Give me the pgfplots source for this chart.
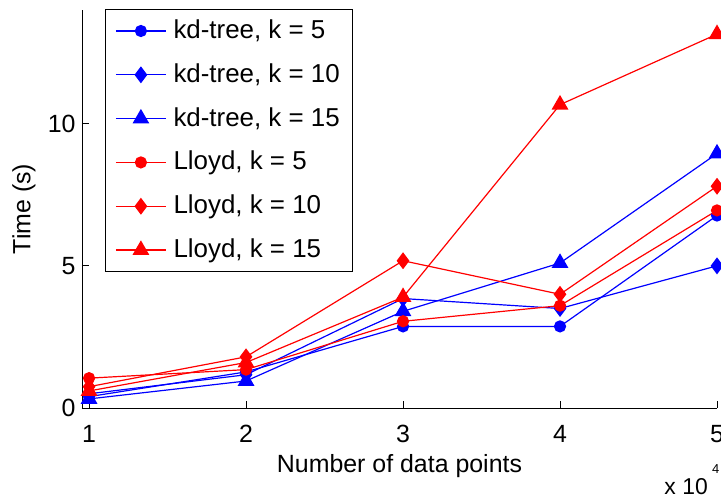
\documentclass[border=0pt]{standalone}
\usepackage{fontspec}
\setmainfont{Liberation Sans}
\usepackage{pgfplots}
\pgfplotsset{compat=1.18}
\definecolor{mblue}{RGB}{0,0,255}
\definecolor{mred}{RGB}{255,0,0}
\begin{document}
\fontsize{25}{30}\selectfont
\begin{tikzpicture}
\begin{axis}[
  name=ax,
  scale only axis, width=635bp, height=398bp,
  xmin=0.955, xmax=5, ymin=0, ymax=14,
  axis x line*=bottom, axis y line*=left,
  xtick={1,2,3,4,5}, ytick={0,5,10},
  tick align=inside, major tick length=7bp,
  tick style={black, line width=0.9bp},
  axis line style={black, line width=0.9bp},
  /pgf/number format/assume math mode=true,
  ticklabel style={font=\fontsize{25}{30}\selectfont},
  xticklabel style={yshift=-9bp},
  yticklabel style={xshift=2bp},
  xlabel={Number of data points}, ylabel={Time (s)},
  label style={font=\fontsize{25}{30}\selectfont},
  xlabel style={at={(axis description cs:0.5,-0.146)}, anchor=center},
  ylabel style={at={(axis description cs:-0.0915,0.5)}, anchor=center},
  legend cell align=left,
  legend style={at={(0.036,1.003)}, anchor=north west, draw=black, line width=0.9bp,
    font=\fontsize{26}{31}\selectfont, row sep=15.3bp, inner xsep=10bp, inner ysep=7.5bp,
    nodes={inner sep=3bp}},
  legend image code/.code={\draw[mark repeat=2,mark phase=2,#1] plot coordinates {(0bp,0bp) (25bp,0bp) (50bp,0bp)}; \path (54bp,0bp);},
  every axis plot/.append style={line width=1.2bp},
]
\addplot[mblue, mark=*, mark size=5.5bp, mark options={solid, fill=mblue}] coordinates {(1,0.40) (2,1.27) (3,2.87) (4,2.87) (5,6.77)};
\addlegendentry{kd-tree, k = 5}
\addplot[mblue, mark=diamond*, mark size=7.5bp, mark options={solid, fill=mblue}] coordinates {(1,0.50) (2,1.17) (3,3.85) (4,3.50) (5,5.00)};
\addlegendentry{kd-tree, k = 10}
\addplot[mblue, mark=triangle*, mark size=8.5bp, mark options={solid, fill=mblue}] coordinates {(1,0.32) (2,0.95) (3,3.40) (4,5.10) (5,8.95)};
\addlegendentry{kd-tree, k = 15}
\addplot[mred, mark=*, mark size=5.5bp, mark options={solid, fill=mred}] coordinates {(1,1.05) (2,1.35) (3,3.05) (4,3.60) (5,6.95)};
\addlegendentry{Lloyd, k = 5}
\addplot[mred, mark=diamond*, mark size=7.5bp, mark options={solid, fill=mred}] coordinates {(1,0.75) (2,1.80) (3,5.18) (4,4.00) (5,7.80)};
\addlegendentry{Lloyd, k = 10}
\addplot[mred, mark=triangle*, mark size=8.5bp, mark options={solid, fill=mred}] coordinates {(1,0.60) (2,1.60) (3,3.90) (4,10.67) (5,13.15)};
\addlegendentry{Lloyd, k = 15}
\end{axis}
\node[anchor=base east, inner sep=0pt, font=\fontsize{23}{27}\selectfont] at ([xshift=-9bp, yshift=-86bp]ax.south east) {x 10};
\node[anchor=base west, inner sep=0pt, font=\fontsize{13}{16}\selectfont] at ([xshift=-5bp, yshift=-65bp]ax.south east) {4};
\pgfresetboundingbox
\path[use as bounding box] (-82bp,-92bp) rectangle (639bp,408bp);
\end{tikzpicture}
\end{document}
